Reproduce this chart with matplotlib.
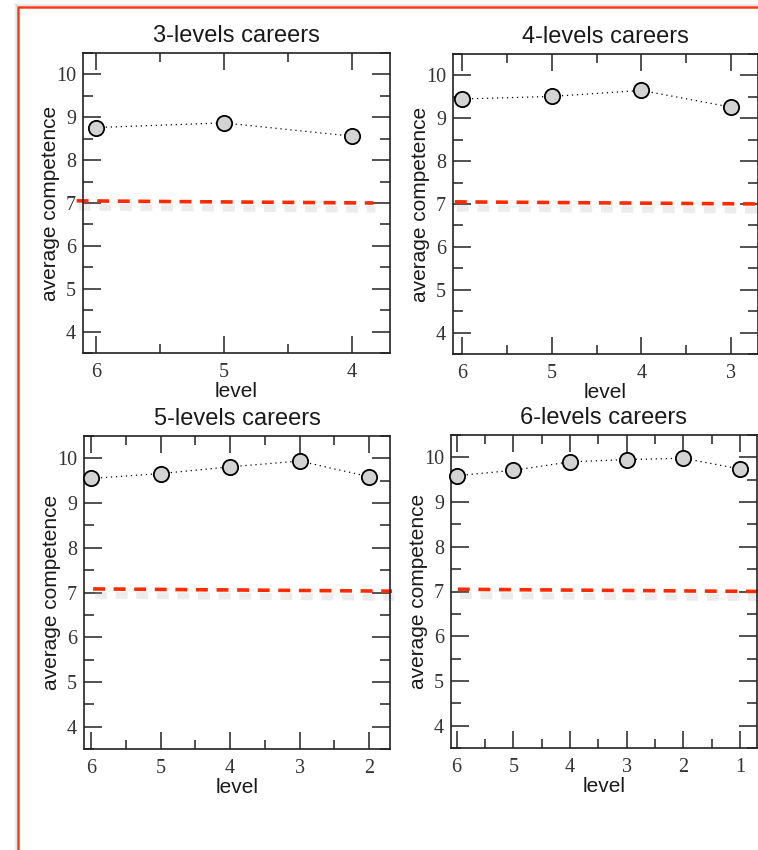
import matplotlib
matplotlib.use("Agg")
import matplotlib.pyplot as plt
import matplotlib.patheffects as pe
from matplotlib.ticker import MultipleLocator

# average competence per level, one series per career length
levels_3 = [6, 5, 4]
comp_3 = [8.76, 8.87, 8.56]
levels_4 = [6, 5, 4, 3]
comp_4 = [9.45, 9.51, 9.65, 9.26]
levels_5 = [6, 5, 4, 3, 2]
comp_5 = [9.55, 9.66, 9.81, 9.94, 9.59]
levels_6 = [6, 5, 4, 3, 2, 1]
comp_6 = [9.59, 9.71, 9.90, 9.95, 9.98, 9.74]

# red dashed reference line (start/end x, start/end y) per panel
ref_x = [(6.15, 3.83), (6.08, 2.6), (5.97, 1.67), (5.98, 0.6)]
ref_y = [(7.05, 7.0), (7.05, 7.0), (7.08, 7.03), (7.05, 7.0)]

titles = ["3-levels careers", "4-levels careers", "5-levels careers", "6-levels careers"]
series = [(levels_3, comp_3), (levels_4, comp_4), (levels_5, comp_5), (levels_6, comp_6)]

W, H = 758, 850
fig = plt.figure(figsize=(W / 100, H / 100), dpi=100)

# axes boxes in pixels: left, top, width, height
boxes = [(83, 53, 307, 300), (453, 54, 305, 300), (84, 436, 306, 313), (451, 435, 306, 313)]

serif = "Liberation Serif"
sans = "Liberation Sans"

for (x, y), title, (l, t, w, h), rx, ry in zip(series, titles, boxes, ref_x, ref_y):
    ax = fig.add_axes([l / W, 1 - (t + h) / H, w / W, h / H])
    ax.plot(x, y, linestyle=(0, (1, 3)), color="black", lw=0.9, zorder=3, clip_on=False)
    ax.plot(x, y, linestyle="none", marker="o", ms=11,
            mfc="#d3d3d3", mec="black", mew=1.3, zorder=4, clip_on=False)
    ax.plot(rx, ry, linestyle=(0, (3.3, 2.4)), color="#ff2a00", lw=2.6, zorder=2,
            clip_on=False,
            path_effects=[pe.SimpleLineShadow(offset=(1.5, -4.5), shadow_color="#aaaaaa",
                                              alpha=0.22, linewidth=5), pe.Normal()])
    ax.set_xlim(max(x) + 0.1, min(x) - 0.3)
    ax.set_ylim(3.5, 10.5)
    ax.xaxis.set_major_locator(MultipleLocator(1))
    ax.xaxis.set_minor_locator(MultipleLocator(0.5))
    ax.yaxis.set_major_locator(MultipleLocator(1))
    ax.yaxis.set_minor_locator(MultipleLocator(0.5))
    ax.tick_params(which="both", direction="in", top=True, right=True, width=1.1, colors="#222222")
    ax.tick_params(axis="y", which="major", length=13, pad=5)
    ax.tick_params(axis="y", which="minor", length=7)
    ax.tick_params(axis="x", which="major", length=12, pad=7)
    ax.tick_params(axis="x", which="minor", length=6.5)
    for lab in ax.get_xticklabels() + ax.get_yticklabels():
        lab.set_fontfamily(serif)
        lab.set_fontsize(14.5)
        lab.set_color("#333333")
    for sp in ax.spines.values():
        sp.set_linewidth(1.2)
        sp.set_color("#222222")
    ax.set_title(title, fontfamily=sans, fontsize=17, pad=8, color="#1a1a1a")
    ax.set_xlabel("level", fontfamily=sans, fontsize=15, color="#1a1a1a")
    ax.set_ylabel("average competence", fontfamily=sans, fontsize=15, color="#1a1a1a")
    ax.xaxis.set_label_coords(0.5, -29 / h)
    ax.yaxis.set_label_coords(-23 / w, 0.5)

# red frame of the screenshot with a soft shadow
bx, by = 17.7, 6.5
for off, a in [(3, 0.06), (2, 0.1), (1, 0.16)]:
    fig.add_artist(plt.Line2D([(bx - off) / W, (bx - off) / W], [0, 1 - (by - off) / H],
                              transform=fig.transFigure, color="gray", lw=1.2, alpha=a))
    fig.add_artist(plt.Line2D([(bx - off) / W, 1], [1 - (by - off) / H, 1 - (by - off) / H],
                              transform=fig.transFigure, color="gray", lw=1.2, alpha=a))
fig.add_artist(plt.Line2D([bx / W, bx / W, 1], [0, 1 - by / H, 1 - by / H],
                          transform=fig.transFigure, color="#ff3a1a", lw=1.8))

fig.savefig("out.png", dpi=100)
